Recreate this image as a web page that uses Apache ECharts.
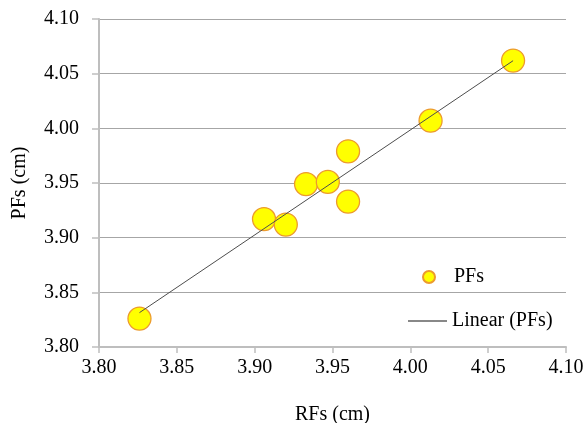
<!DOCTYPE html>
<html><head><meta charset="utf-8">
<script src="https://cdn.jsdelivr.net/npm/echarts@6/dist/echarts.min.js"></script>
<style>html,body{margin:0;padding:0;background:#fff}#c{width:587px;height:423px}</style>
</head><body><div id="c"></div>
<script>
const rfs = [3.826, 3.906, 3.920, 3.933, 3.947, 3.960, 3.960, 4.013, 4.066];
const pfs = [3.826, 3.917, 3.912, 3.949, 3.951, 3.979, 3.933, 4.007, 4.062];
const xTicks = [3.80, 3.85, 3.90, 3.95, 4.00, 4.05, 4.10];
const yTicks = [3.80, 3.85, 3.90, 3.95, 4.00, 4.05, 4.10];

const n = rfs.length;
const mx = rfs.reduce((a,b)=>a+b,0)/n, my = pfs.reduce((a,b)=>a+b,0)/n;
let sxy=0,sxx=0;
for(let i=0;i<n;i++){sxy+=(rfs[i]-mx)*(pfs[i]-my);sxx+=(rfs[i]-mx)**2;}
const slope=sxy/sxx, icpt=my-slope*mx;
const xmin=Math.min(...rfs), xmax=Math.max(...rfs);
const trend=[[xmin,icpt+slope*xmin],[xmax,icpt+slope*xmax]];

const font='Liberation Serif';
const fs=20;
const chart=echarts.init(document.getElementById('c'));
chart.setOption({
  animation:false,
  textStyle:{fontFamily:font,fontSize:fs,color:'#000'},
  grid:{left:99,top:19,right:21,bottom:76,outerBoundsMode:'none',containLabel:false},
  xAxis:{type:'value',min:3.80,max:4.10,interval:0.05,
    name:'RFs (cm)',nameLocation:'middle',nameGap:58,
    nameTextStyle:{fontFamily:font,fontSize:fs,color:'#000'},
    axisLine:{show:true,lineStyle:{color:'#BEBEBE',width:2}},
    axisTick:{show:true,length:6,lineStyle:{color:'#BEBEBE',width:1.5}},
    axisLabel:{fontFamily:font,fontSize:fs,color:'#000',margin:11,formatter:v=>xTicks.find(t=>Math.abs(t-v)<1e-9).toFixed(2)},
    splitLine:{show:false}},
  yAxis:{type:'value',min:3.80,max:4.10,interval:0.05,
    name:'PFs (cm)',nameLocation:'middle',nameGap:69,
    nameTextStyle:{fontFamily:font,fontSize:fs,color:'#000'},
    axisLine:{show:true,lineStyle:{color:'#BEBEBE',width:2}},
    axisTick:{show:true,length:7,lineStyle:{color:'#BEBEBE',width:1.5}},
    axisLabel:{fontFamily:font,fontSize:fs,color:'#000',margin:20,formatter:v=>yTicks.find(t=>Math.abs(t-v)<1e-9).toFixed(2)},
    splitLine:{show:true,lineStyle:{color:'#A6A6A6',width:1}}},
  legend:[
    {left:417,top:262,itemWidth:12,itemHeight:12,
     textStyle:{fontFamily:font,fontSize:fs,color:'#000',padding:[0,0,0,14]},
     data:[{name:'PFs',icon:'circle'}]},
    {left:403,top:306,itemWidth:39,itemHeight:1.5,
     textStyle:{fontFamily:font,fontSize:fs,color:'#000'},
     data:[{name:'Linear (PFs)',icon:'rect',itemStyle:{color:'#606060'}}]}
  ],
  series:[
    {name:'PFs',type:'scatter',symbol:'circle',symbolSize:23,z:2,
     itemStyle:{color:'#FFFF00',borderColor:'#EC9A2E',borderWidth:1.3,opacity:1},
     data:rfs.map((x,i)=>[x,pfs[i]])},
    {name:'Linear (PFs)',type:'line',z:3,symbol:'none',
     lineStyle:{color:'#4D4D4D',width:1},
     itemStyle:{color:'#606060'},
     data:trend}
  ]
});
</script></body></html>
